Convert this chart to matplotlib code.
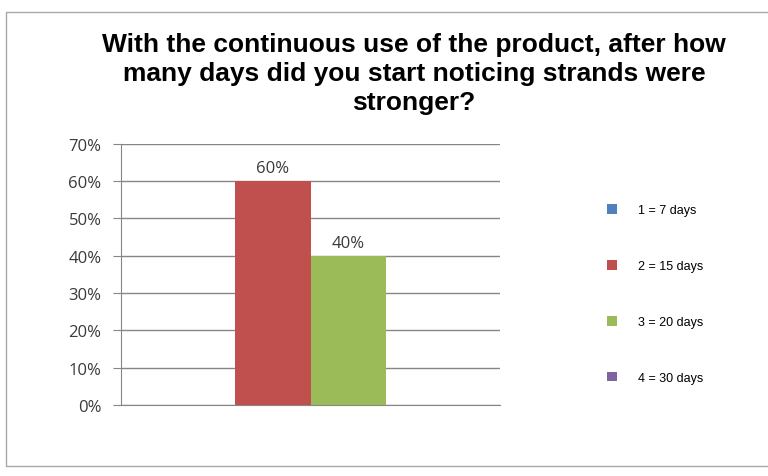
import matplotlib.pyplot as plt
import matplotlib.patches as mpatches
import numpy as np

# data
series = ['1 = 7 days', '2 = 15 days', '3 = 20 days', '4 = 30 days']
values = [0.0, 0.60, 0.40, 0.0]
colors = ['#4F81BD', '#C0504D', '#9BBB59', '#8064A2']
yticks = [0, 0.1, 0.2, 0.3, 0.4, 0.5, 0.6, 0.7]

fig = plt.figure(figsize=(7.68, 4.77), dpi=100)

# chart frame (excel chart area)
fig.patches.append(mpatches.Rectangle((6/768, 1-467/477), 1.0, (467-13)/477,
                                      transform=fig.transFigure, fill=False,
                                      edgecolor='#A8A8A8', linewidth=1.0))

ax = fig.add_axes([121/768, 1-406/477, 379/768, (406-144.6)/477])

width = 0.2
pos = (np.arange(len(series)) - 1.5) * width
for p, v, c, s in zip(pos, values, colors, series):
    ax.bar(p, v, width=width, color=c, label=s, zorder=3)
    if v > 0:
        ax.text(p, v + 0.012, '%d%%' % round(v * 100), ha='center', va='bottom',
                fontsize=12, color='#3A3A3A', family='Open Sans')

ax.set_xlim(-0.5, 0.5)
ax.set_ylim(0, 0.7)
ax.set_yticks(yticks)
ax.set_yticklabels(['%d%%' % round(t * 100) for t in yticks], fontsize=12,
                   color='#3A3A3A', family='Open Sans')
ax.set_xticks([])
ax.yaxis.grid(True, color='#868686', linewidth=1.0, zorder=0)
for s in ['top', 'right']:
    ax.spines[s].set_visible(False)
for s in ['left', 'bottom']:
    ax.spines[s].set_color('#868686')
ax.tick_params(axis='y', length=6, color='#868686', pad=8)

fig.text(414/768, 1-74/477,
         'With the continuous use of the product, after how\n'
         'many days did you start noticing strands were\nstronger?',
         ha='center', va='center', fontsize=19, fontweight='bold',
         family='Liberation Sans', linespacing=1.27)

handles, labels = ax.get_legend_handles_labels()
fig.legend(handles, labels, loc='upper left', bbox_to_anchor=(596/768, 1-194/477),
           frameon=False, prop={'family': 'Liberation Sans', 'size': 9},
           handlelength=0.8, handleheight=0.8, labelspacing=3.5, handletextpad=1.65)

fig.savefig('out.png', dpi=100)
